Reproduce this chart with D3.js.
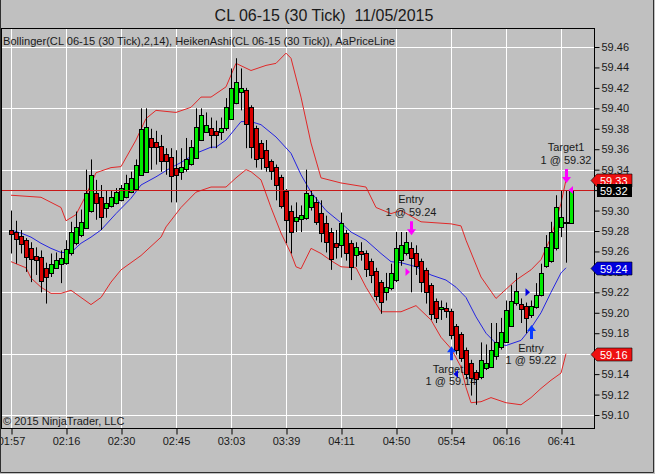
<!DOCTYPE html>
<html>
<head>
<meta charset="utf-8">
<script src="https://cdnjs.cloudflare.com/ajax/libs/d3/7.8.5/d3.min.js"></script>
<style>
body { margin: 0; background: #c0c0c0; }
svg { display: block; font-family: "Liberation Sans", Arial, sans-serif; }
</style>
</head>
<body>
<div id="chart"></div>
<script>
// x axis labels, one every 11 bars
var timeLabels = ["01:57", "02:16", "02:30", "02:45", "03:03", "03:39", "04:11", "04:50", "05:54", "06:16", "06:41"];
var tickBars = [0, 11, 22, 33, 44, 55, 66, 77, 88, 99, 110];
var priceTicks = [59.10, 59.12, 59.14, 59.16, 59.18, 59.20, 59.22, 59.24, 59.26, 59.28,
    59.30, 59.32, 59.34, 59.36, 59.38, 59.40, 59.42, 59.44, 59.46];
var gridPrices = [59.10, 59.16, 59.22, 59.28, 59.34, 59.40, 59.46];

// Heiken Ashi bars
var haOpen = [59.281, 59.279, 59.275, 59.271, 59.263, 59.256, 59.255, 59.244, 59.239, 59.244,
    59.248, 59.248, 59.258, 59.268, 59.276, 59.283, 59.300, 59.317, 59.313, 59.302,
    59.304, 59.307, 59.310, 59.313, 59.318, 59.322, 59.335, 59.338, 59.371, 59.367,
    59.363, 59.355, 59.352, 59.342, 59.338, 59.340, 59.345, 59.352, 59.369, 59.377,
    59.381, 59.378, 59.377, 59.380, 59.390, 59.405, 59.416, 59.418, 59.401, 59.381,
    59.366, 59.359, 59.348, 59.343, 59.333, 59.319, 59.300, 59.290, 59.292, 59.293,
    59.303, 59.308, 59.298, 59.288, 59.279, 59.268, 59.266, 59.278, 59.268, 59.256,
    59.260, 59.258, 59.251, 59.241, 59.230, 59.220, 59.224, 59.232, 59.251, 59.258,
    59.263, 59.258, 59.251, 59.242, 59.227, 59.212, 59.204, 59.205, 59.202, 59.187,
    59.179, 59.164, 59.151, 59.142, 59.137, 59.146, 59.147, 59.157, 59.166, 59.172,
    59.188, 59.209, 59.209, 59.207, 59.198, 59.205, 59.217, 59.245, 59.251, 59.263,
    59.284, 59.289, 59.288];
var haHigh = [59.300, 59.290, 59.281, 59.273, 59.269, 59.264, 59.261, 59.249, 59.258, 59.259,
    59.261, 59.271, 59.289, 59.299, 59.301, 59.340, 59.350, 59.330, 59.325, 59.320,
    59.320, 59.322, 59.325, 59.335, 59.338, 59.350, 59.400, 59.400, 59.380, 59.378,
    59.374, 59.361, 59.361, 59.359, 59.361, 59.371, 59.369, 59.400, 59.400, 59.396,
    59.391, 59.388, 59.391, 59.410, 59.439, 59.449, 59.439, 59.420, 59.403, 59.383,
    59.369, 59.369, 59.350, 59.345, 59.335, 59.321, 59.305, 59.308, 59.305, 59.340,
    59.320, 59.313, 59.310, 59.295, 59.283, 59.281, 59.298, 59.281, 59.271, 59.269,
    59.269, 59.261, 59.253, 59.244, 59.232, 59.239, 59.248, 59.279, 59.279, 59.279,
    59.269, 59.266, 59.253, 59.244, 59.229, 59.214, 59.212, 59.210, 59.204, 59.189,
    59.181, 59.166, 59.154, 59.144, 59.171, 59.169, 59.190, 59.190, 59.195, 59.212,
    59.227, 59.239, 59.214, 59.210, 59.212, 59.229, 59.248, 59.276, 59.289, 59.315,
    59.320, 59.320, 59.320];
var haLow = [59.258, 59.248, 59.258, 59.240, 59.230, 59.237, 59.220, 59.209, 59.235, 59.243,
    59.229, 59.247, 59.256, 59.266, 59.274, 59.282, 59.298, 59.291, 59.281, 59.293,
    59.303, 59.306, 59.309, 59.312, 59.317, 59.321, 59.334, 59.337, 59.340, 59.345,
    59.338, 59.335, 59.308, 59.308, 59.330, 59.338, 59.344, 59.351, 59.368, 59.376,
    59.361, 59.361, 59.369, 59.378, 59.389, 59.404, 59.398, 59.361, 59.351, 59.342,
    59.340, 59.338, 59.330, 59.310, 59.302, 59.268, 59.258, 59.279, 59.279, 59.291,
    59.300, 59.286, 59.269, 59.259, 59.242, 59.253, 59.254, 59.251, 59.232, 59.245,
    59.251, 59.235, 59.229, 59.212, 59.199, 59.212, 59.222, 59.230, 59.246, 59.256,
    59.220, 59.237, 59.220, 59.209, 59.193, 59.190, 59.193, 59.195, 59.174, 59.159,
    59.152, 59.135, 59.119, 59.110, 59.135, 59.144, 59.146, 59.154, 59.164, 59.171,
    59.187, 59.207, 59.190, 59.180, 59.195, 59.204, 59.216, 59.244, 59.249, 59.261,
    59.274, 59.249, 59.287];
var haClose = [59.277, 59.272, 59.267, 59.254, 59.252, 59.252, 59.232, 59.235, 59.248, 59.252,
    59.254, 59.262, 59.279, 59.284, 59.289, 59.317, 59.335, 59.307, 59.293, 59.307,
    59.313, 59.318, 59.322, 59.327, 59.332, 59.345, 59.380, 59.382, 59.362, 59.362,
    59.348, 59.348, 59.333, 59.335, 59.343, 59.350, 59.362, 59.382, 59.393, 59.384,
    59.374, 59.374, 59.381, 59.401, 59.420, 59.426, 59.420, 59.385, 59.362, 59.351,
    59.351, 59.342, 59.338, 59.325, 59.305, 59.291, 59.279, 59.294, 59.296, 59.317,
    59.315, 59.288, 59.278, 59.269, 59.253, 59.264, 59.288, 59.258, 59.245, 59.264,
    59.257, 59.242, 59.237, 59.217, 59.210, 59.225, 59.239, 59.263, 59.266, 59.269,
    59.253, 59.245, 59.230, 59.220, 59.199, 59.195, 59.206, 59.202, 59.179, 59.164,
    59.156, 59.141, 59.136, 59.135, 59.154, 59.151, 59.164, 59.171, 59.181, 59.203,
    59.212, 59.221, 59.204, 59.195, 59.207, 59.217, 59.239, 59.264, 59.279, 59.303,
    59.294, 59.288, 59.320];

// Bollinger(2,14), read at bar indices
var upperIdx = [0, 6, 10, 11, 13, 15, 17, 20, 22, 25, 27, 29, 33, 36, 38, 40, 43, 45, 48, 51,
    53, 55, 56, 58, 60, 62, 66, 71, 73, 76, 78, 82, 88, 90, 91, 94, 97, 101, 104, 106, 108, 110, 111];
var upperVal = [59.315, 59.313, 59.303, 59.290, 59.296, 59.315, 59.337, 59.342, 59.343, 59.369,
    59.390, 59.398, 59.396, 59.401, 59.411, 59.411, 59.421, 59.444, 59.437, 59.442,
    59.444, 59.454, 59.449, 59.411, 59.366, 59.332, 59.327, 59.323, 59.303, 59.297,
    59.300, 59.289, 59.287, 59.285, 59.271, 59.235, 59.214, 59.232, 59.242, 59.252,
    59.274, 59.307, 59.33];
var middleIdx = [0, 2, 4, 6, 8, 10, 12, 14, 16, 18, 21, 24, 26, 29, 32, 34, 37, 40, 41, 43,
    45, 46, 48, 50, 53, 56, 58, 60, 63, 66, 68, 71, 74, 76, 78, 81, 84, 87, 89, 91,
    93, 95, 97, 99, 102, 104, 106, 108, 110, 111];
var middleVal = [59.281, 59.278, 59.274, 59.268, 59.263, 59.259, 59.259, 59.268, 59.274, 59.281,
    59.297, 59.312, 59.325, 59.333, 59.342, 59.347, 59.356, 59.362, 59.362, 59.369,
    59.381, 59.387, 59.387, 59.384, 59.372, 59.356, 59.335, 59.318, 59.300, 59.288,
    59.279, 59.271, 59.258, 59.250, 59.249, 59.245, 59.237, 59.232, 59.225, 59.215,
    59.196, 59.180, 59.170, 59.168, 59.173, 59.185, 59.200, 59.220, 59.239, 59.244];
var lowerIdx = [0, 3, 4, 6, 8, 10, 12, 14, 16, 18, 20, 22, 26, 30, 31, 34, 37, 40, 43, 45,
    47, 48, 50, 52, 54, 56, 57, 58, 60, 62, 64, 66, 69, 71, 73, 74, 78, 81, 84, 86,
    88, 90, 91, 92, 94, 96, 99, 102, 104, 106, 108, 110, 111];
var lowerVal = [59.250, 59.244, 59.234, 59.225, 59.219, 59.219, 59.222, 59.215, 59.208, 59.215,
    59.230, 59.242, 59.256, 59.274, 59.284, 59.303, 59.318, 59.323, 59.323, 59.332,
    59.340, 59.338, 59.330, 59.303, 59.278, 59.258, 59.245, 59.243, 59.263, 59.258,
    59.251, 59.245, 59.244, 59.225, 59.209, 59.201, 59.201, 59.207, 59.193, 59.176,
    59.165, 59.147, 59.127, 59.112, 59.113, 59.117, 59.112, 59.110, 59.117, 59.126,
    59.134, 59.141, 59.16];

// strategy executions
var execBars = [80, 88, 104, 111];
var execPrices = [59.24, 59.14, 59.22, 59.32];
var execNames = ["Entry", "Target1", "Entry", "Target1"];
var execSide = ["sell", "buy", "buy", "sell"];
var execIsEntry = [true, false, true, false];

var W = 655, H = 474;
var plotL = 1.5, plotR = 594.5, plotT = 28.5, plotB = 428.5;

var svg = d3.select("#chart").append("svg")
    .attr("width", W)
    .attr("height", H);

svg.append("rect")
    .attr("width", W).attr("height", H)
    .attr("fill", "#c0c0c0");

var x = d3.scaleLinear().domain([0, haOpen.length - 1]).range([11, 571]);
var y = d3.scaleLinear().domain([59.10, 59.46]).range([415, 47]);

svg.append("clipPath").attr("id", "plotclip")
    .append("rect")
    .attr("x", plotL).attr("y", plotT)
    .attr("width", plotR - plotL).attr("height", plotB - plotT);

var plot = svg.append("g").attr("clip-path", "url(#plotclip)");

// grid
plot.selectAll("line.vgrid").data(tickBars).enter().append("line")
    .attr("class", "vgrid")
    .attr("x1", function (d) { return Math.round(x(d)) + 0.5; })
    .attr("x2", function (d) { return Math.round(x(d)) + 0.5; })
    .attr("y1", plotT).attr("y2", plotB)
    .attr("stroke", "#ffffff");
plot.selectAll("line.hgrid").data(gridPrices).enter().append("line")
    .attr("class", "hgrid")
    .attr("x1", plotL).attr("x2", plotR)
    .attr("y1", function (d) { return Math.round(y(d)) + 0.5; })
    .attr("y2", function (d) { return Math.round(y(d)) + 0.5; })
    .attr("stroke", "#ffffff");

// bollinger bands
var band = d3.line()
    .x(function (d) { return x(d[0]); })
    .y(function (d) { return y(d[1]); });

plot.append("path").datum(d3.zip(upperIdx, upperVal))
    .attr("d", band).attr("fill", "none").attr("stroke", "#e02828").attr("stroke-width", 1);
plot.append("path").datum(d3.zip(lowerIdx, lowerVal))
    .attr("d", band).attr("fill", "none").attr("stroke", "#e02828").attr("stroke-width", 1);
plot.append("path").datum(d3.zip(middleIdx, middleVal))
    .attr("d", band).attr("fill", "none").attr("stroke", "#2424e0").attr("stroke-width", 1);

// execution texts sit behind the bars
function arrowTip(k) {
    var i = execBars[k];
    if (execSide[k] == "sell") return y(haHigh[i]) - 7;
    return y(haLow[i]) + 7;
}

execBars.forEach(function (b, k) {
    var cx = x(b);
    var tip = arrowTip(k);
    var y1, y2;
    if (execSide[k] == "sell") {
        y2 = tip - 23;
        y1 = tip - 36;
    } else {
        y1 = tip + 23;
        y2 = tip + 35;
    }
    plot.append("text")
        .attr("x", cx).attr("y", y1 + 4)
        .attr("text-anchor", "middle")
        .attr("font-size", 11).attr("fill", "#1a1a1a")
        .text(execNames[k]);
    plot.append("text")
        .attr("x", cx).attr("y", y2 + 4)
        .attr("text-anchor", "middle")
        .attr("font-size", 11).attr("fill", "#1a1a1a")
        .text("1 @ " + d3.format(".2f")(execPrices[k]));
});

// heiken ashi candles
var bars = plot.selectAll("g.bar").data(d3.range(haOpen.length)).enter().append("g")
    .attr("class", "bar");

bars.append("line")
    .attr("x1", function (i) { return Math.round(x(i)) + 0.5; })
    .attr("x2", function (i) { return Math.round(x(i)) + 0.5; })
    .attr("y1", function (i) { return y(haHigh[i]); })
    .attr("y2", function (i) { return y(haLow[i]); })
    .attr("stroke", "#000");

bars.append("rect")
    .attr("x", function (i) { return Math.round(x(i)) - 1.5; })
    .attr("width", 4)
    .attr("y", function (i) { return Math.round(y(Math.max(haOpen[i], haClose[i]))) + 0.5; })
    .attr("height", function (i) {
        return Math.max(1, Math.round(Math.abs(y(haOpen[i]) - y(haClose[i]))));
    })
    .attr("fill", function (i) { return haClose[i] >= haOpen[i] ? "#00ea00" : "#d80000"; })
    .attr("stroke", "#000")
    .attr("stroke-width", 1);

// price line
var last = haClose[haClose.length - 1];
plot.append("line")
    .attr("x1", plotL).attr("x2", plotR)
    .attr("y1", Math.round(y(last)) + 0.5).attr("y2", Math.round(y(last)) + 0.5)
    .attr("stroke", "#c81818");

// arrows and fill markers
execBars.forEach(function (b, k) {
    var cx = Math.round(x(b)) + 0.5;
    var tip = arrowTip(k);
    var dir = execSide[k] == "sell" ? 1 : -1;
    var col = execSide[k] == "sell" ? "#ff00ff" : "#0a3cff";
    var pts = [[cx, tip], [cx - 4.5, tip - 6 * dir], [cx - 1.5, tip - 6 * dir], [cx - 1.5, tip - 14 * dir],
        [cx + 1.5, tip - 14 * dir], [cx + 1.5, tip - 6 * dir], [cx + 4.5, tip - 6 * dir]];
    plot.append("path")
        .attr("d", "M" + pts.join("L") + "Z")
        .attr("fill", col);

    var py = y(execPrices[k]);
    var tri;
    if (execIsEntry[k]) {
        tri = [[cx - 1.5, py], [cx - 6, py - 4], [cx - 6, py + 4]];
    } else {
        tri = [[cx + 2, py], [cx + 6.5, py - 4], [cx + 6.5, py + 4]];
    }
    plot.append("path")
        .attr("d", "M" + tri.join("L") + "Z")
        .attr("fill", execSide[k] == "sell" ? "#ff00ff" : "#0000e0");
});

// plot frame
svg.append("rect")
    .attr("x", plotL).attr("y", plotT)
    .attr("width", plotR - plotL).attr("height", plotB - plotT)
    .attr("fill", "none").attr("stroke", "#000");

// axes
var yAxis = d3.axisRight(y)
    .tickValues(priceTicks)
    .tickFormat(d3.format(".2f"))
    .tickSize(5)
    .tickPadding(2);
var gy = svg.append("g").attr("transform", "translate(" + plotR + ",0)").call(yAxis);
gy.select(".domain").remove();
gy.selectAll("line").attr("stroke", "#000");
gy.selectAll("text").attr("font-size", 11).attr("fill", "#1a1a1a")
    .attr("font-family", "'Liberation Sans', Arial, sans-serif");

var xAxis = d3.axisBottom(x)
    .tickValues(tickBars)
    .tickFormat(function (d, i) { return timeLabels[i]; })
    .tickSize(6)
    .tickPadding(3);
var gx = svg.append("g").attr("transform", "translate(0," + plotB + ")").call(xAxis);
gx.select(".domain").remove();
gx.selectAll("line").attr("stroke", "#000")
    .attr("transform", function (d) { return "translate(" + (Math.round(x(d)) + 0.5 - x(d)) + ",0)"; });
gx.selectAll("text").attr("font-size", 11).attr("fill", "#1a1a1a")
    .attr("font-family", "'Liberation Sans', Arial, sans-serif");

// value markers on the price axis
function marker(val, fill, pointed) {
    var cy = Math.round(y(val)) + 0.5;
    var g = svg.append("g");
    if (pointed) {
        g.append("path")
            .attr("d", "M591," + cy + "L597," + (cy - 6.5) + "L632," + (cy - 6.5) +
                "L632," + (cy + 6.5) + "L597," + (cy + 6.5) + "Z")
            .attr("fill", fill).attr("stroke", "#000").attr("stroke-width", 0.6);
    } else {
        g.append("rect")
            .attr("x", 597).attr("y", cy - 6.5)
            .attr("width", 35).attr("height", 13)
            .attr("fill", fill);
    }
    g.append("text")
        .attr("x", 600).attr("y", cy + 4)
        .attr("font-size", 11).attr("fill", "#fff")
        .text(d3.format(".2f")(val));
}

marker(upperVal[upperVal.length - 1], "#ee1010", true);
marker(last, "#000000", false);
marker(middleVal[middleVal.length - 1], "#0000dd", true);
marker(lowerVal[lowerVal.length - 1], "#ee1010", true);

// texts
svg.append("text")
    .attr("x", 324).attr("y", 21)
    .attr("text-anchor", "middle")
    .attr("font-size", 16).attr("fill", "#1a1a1a")
    .text("CL 06-15 (30 Tick)\u00a0\u00a011/05/2015");

svg.append("text")
    .attr("x", 3).attr("y", 45)
    .attr("font-size", 11).attr("fill", "#1a1a1a")
    .attr("textLength", 392).attr("lengthAdjust", "spacingAndGlyphs")
    .text("Bollinger(CL 06-15 (30 Tick),2,14), HeikenAshi(CL 06-15 (30 Tick)), AaPriceLine");

svg.append("text")
    .attr("x", 3).attr("y", 425)
    .attr("font-size", 11).attr("fill", "#1a1a1a")
    .text("\u00a9 2015 NinjaTrader, LLC");

// window frame
svg.append("path")
    .attr("d", "M0.5,0L0.5," + (H - 1.5) + "L" + (W - 1.5) + "," + (H - 1.5) + "L" + (W - 1.5) + ",0")
    .attr("fill", "none").attr("stroke", "#303030");
</script>
</body>
</html>
